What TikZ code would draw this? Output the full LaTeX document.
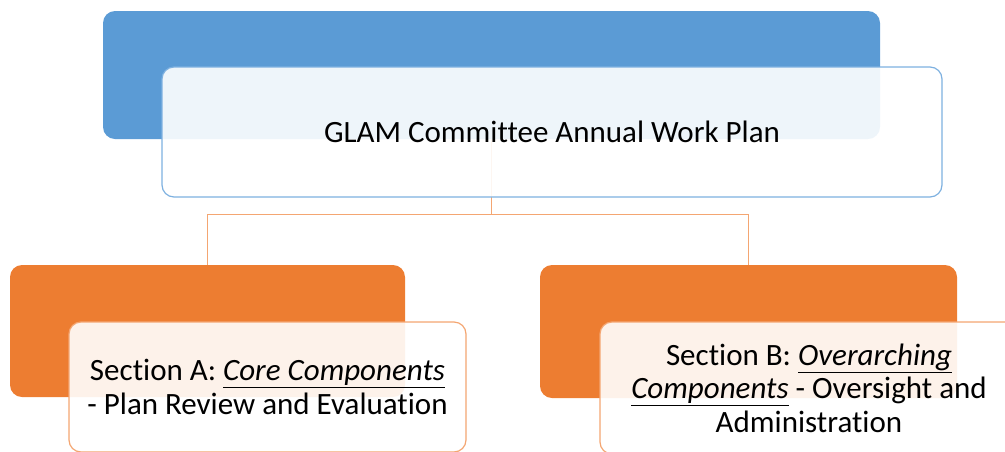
\documentclass[tikz,border=0pt]{standalone}
\usepackage{fontspec}
\setmainfont{Carlito}[Ligatures=NoCommon]
\usetikzlibrary{positioning}
\definecolor{glamblue}{HTML}{5B9BD5}
\definecolor{glamblueline}{HTML}{7EB1E0}
\definecolor{glamorange}{HTML}{ED7D31}
\definecolor{glamorangeline}{HTML}{F4A672}
\tikzset{
  backbox/.style={rectangle, rounded corners=12pt, inner sep=0pt},
  frontbox/.style={rectangle, rounded corners=12pt, fill=white, fill opacity=0.9, text opacity=1, line width=1.2pt, align=center, inner sep=0pt, font=\fontsize{31}{33.5}\selectfont},
  link/.style={draw=glamorangeline, line width=1.2pt}
}
\begin{document}
\begin{tikzpicture}[x=1pt, y=-1pt]
\useasboundingbox (0,0) rectangle (1005,451);
\clip (0,0) rectangle (1005,451);

% Back boxes
\node (planback) [backbox, fill=glamblue, minimum width=777pt, minimum height=128pt] at (491.5,75) {};
\node (secAback) [backbox, fill=glamorange, minimum width=395pt, minimum height=132pt] at (207.5,331) {};
\node (secBback) [backbox, fill=glamorange, minimum width=417pt, minimum height=133pt] at (748.5,331.5) {};

% Connectors
\draw [link] (planback.south) -- ++(0,75) -| (secAback.north);
\draw [link] (planback.south) -- ++(0,75) -| (secBback.north);

% Front boxes
\node (plan) [frontbox, draw=glamblueline, minimum width=780pt, minimum height=130pt] at (552,132) {GLAM Committee Annual Work Plan};
\node (secA) [frontbox, draw=glamorangeline, minimum width=397pt, minimum height=130pt] at (267.5,387) {Section A: \underline{\textit{Core Components}}\\- Plan Review and Evaluation};
\node (secB) [frontbox, draw=glamorangeline, minimum width=418pt, minimum height=132pt] at (809,388) {Section B: \underline{\textit{Overarching}}\\\underline{\textit{Components}} - Oversight and\\Administration};
\end{tikzpicture}
\end{document}
